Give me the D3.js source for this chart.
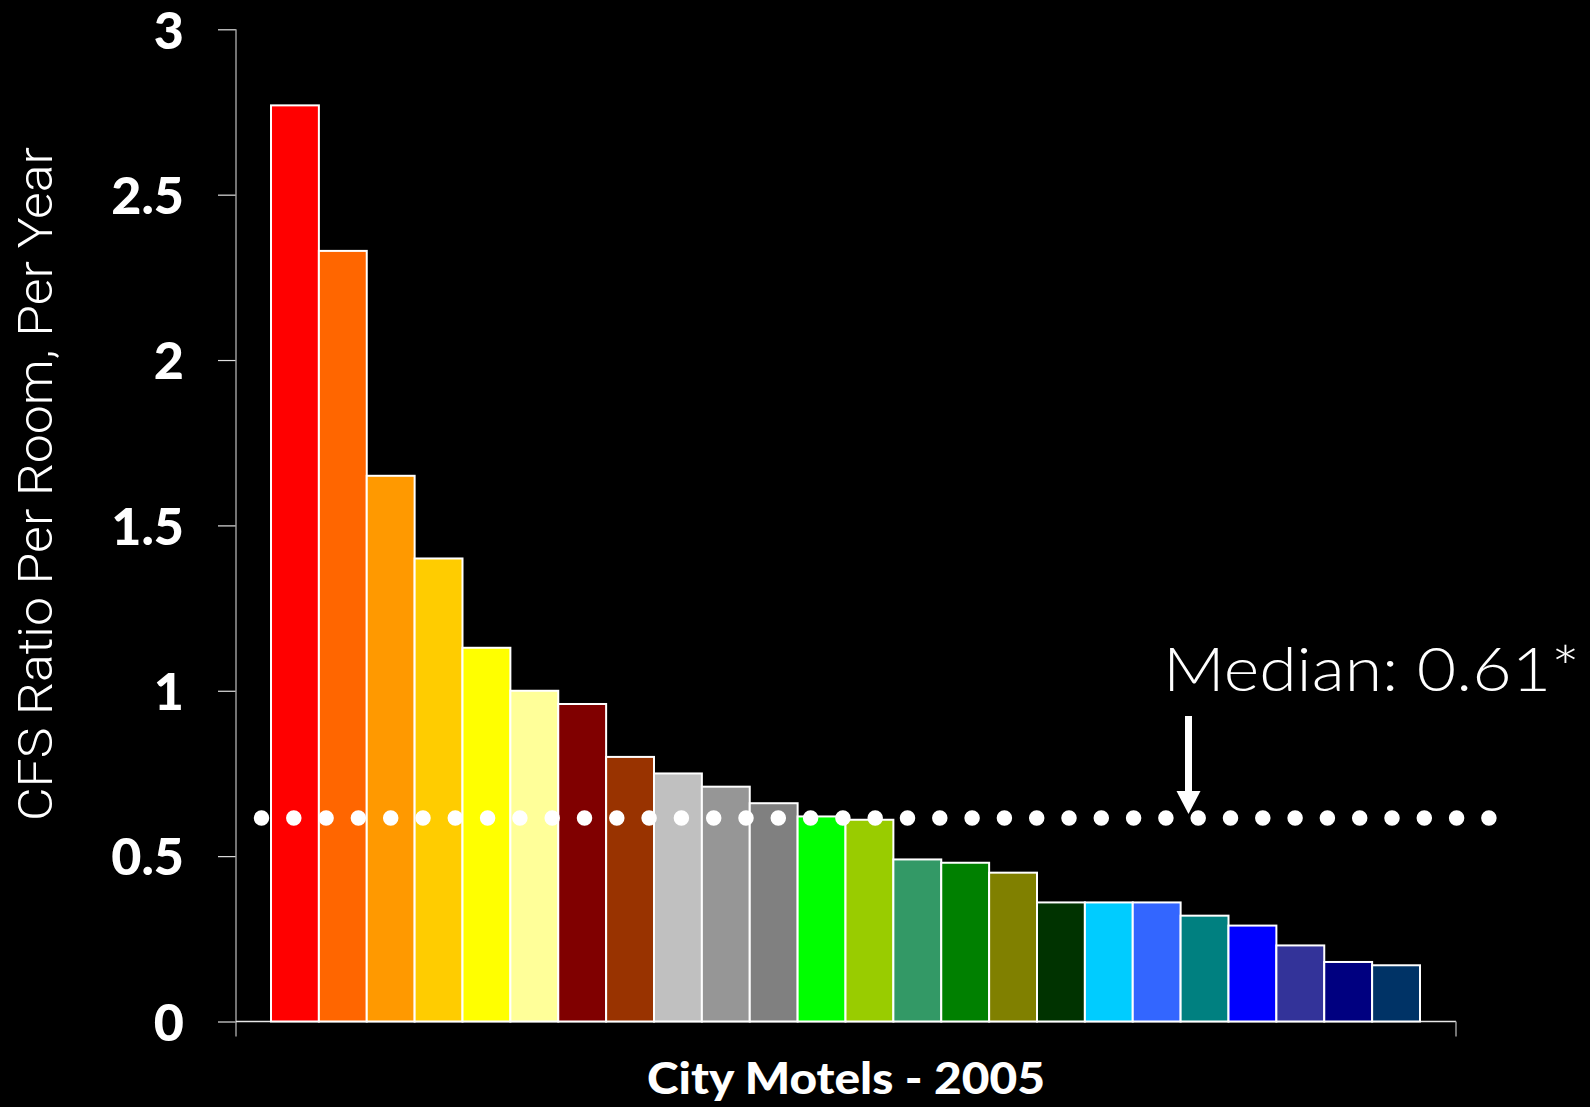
<!DOCTYPE html>
<html>
<head>
<meta charset="utf-8">
<script src="https://cdn.jsdelivr.net/npm/d3@7"></script>
<style>
  html, body { margin: 0; padding: 0; background: #000; }
  svg { display: block; }
</style>
</head>
<body>
<svg id="chart" width="1590" height="1107"></svg>
<script>
// ---- data ----
const motels = d3.range(1, 25).map(i => "Motel " + i);
const cfsRatio = [2.77, 2.33, 1.65, 1.40, 1.13, 1.00, 0.96, 0.80, 0.75, 0.71, 0.66, 0.62,
                  0.61, 0.49, 0.48, 0.45, 0.36, 0.36, 0.36, 0.32, 0.29, 0.23, 0.18, 0.17];
const barColors = ["#FF0000", "#FF6600", "#FF9900", "#FFCC00", "#FFFF00", "#FFFF99",
                   "#800000", "#993300", "#C0C0C0", "#969696", "#808080", "#00FF00",
                   "#99CC00", "#339966", "#008000", "#808000", "#003300", "#00CCFF",
                   "#3366FF", "#008080", "#0000FF", "#333399", "#000080", "#003366"];
const yTicks = [0, 0.5, 1, 1.5, 2, 2.5, 3];
const medianLabel = "Median: 0.61*";
const yTitle = "CFS Ratio Per Room, Per Year";
const xTitle = "City Motels - 2005";

// ---- layout ----
const svg = d3.select("#chart");
const axisX = 236, axisRight = 1456, y0 = 1021.5, yTop = 29.3;
const x = d3.scaleBand().domain(motels).range([271, 1420]).padding(0);
const y = d3.scaleLinear().domain([0, 3]).range([y0, yTop]);

svg.append("rect").attr("width", 1590).attr("height", 1107).attr("fill", "#000");

// y axis
const yAxis = d3.axisLeft(y).tickValues(yTicks).tickSize(18).tickPadding(34)
  .tickFormat(d => d3.format("")(d));
const gy = svg.append("g").attr("transform", `translate(${axisX},0)`).call(yAxis);
gy.select(".domain").remove();
gy.selectAll(".tick line").attr("stroke", "#e0e0e0").attr("stroke-width", 1.2);
gy.selectAll(".tick text")
  .attr("fill", "#fff")
  .style("font-family", "Lato, 'Open Sans', sans-serif")
  .style("font-weight", "900")
  .style("font-size", "52px")
  .attr("dy", "0.36em");
svg.append("line").attr("x1", axisX).attr("x2", axisX)
  .attr("y1", yTop).attr("y2", y0 + 15)
  .attr("stroke", "#9a9a9a").attr("stroke-width", 1.5);

// x axis frame
svg.append("line").attr("x1", axisX).attr("x2", axisRight)
  .attr("y1", y0).attr("y2", y0).attr("stroke", "#e8e8e8").attr("stroke-width", 1.5);
svg.append("line").attr("x1", axisRight).attr("x2", axisRight)
  .attr("y1", y0).attr("y2", y0 + 15).attr("stroke", "#9a9a9a").attr("stroke-width", 1.5);

// bars
svg.append("g").selectAll("rect").data(cfsRatio).join("rect")
  .attr("x", (d, i) => x(motels[i]))
  .attr("y", d => y(d))
  .attr("width", x.bandwidth())
  .attr("height", d => y0 - y(d))
  .attr("fill", (d, i) => barColors[i])
  .attr("stroke", "#fff")
  .attr("stroke-width", 2);

// median dotted line
const med = d3.median(cfsRatio);
svg.append("line")
  .attr("x1", 261.5).attr("x2", 1492)
  .attr("y1", y(med)).attr("y2", y(med))
  .attr("stroke", "#fff").attr("stroke-width", 15.5)
  .attr("stroke-linecap", "round")
  .attr("stroke-dasharray", "0 32.3");

// arrow
const ax = 1188.5;
svg.append("line").attr("x1", ax).attr("x2", ax).attr("y1", 716).attr("y2", 795)
  .attr("stroke", "#fff").attr("stroke-width", 7);
svg.append("path")
  .attr("d", `M${ax - 12},791 L${ax + 12},791 L${ax},814 Z`)
  .attr("fill", "#fff");

// median label
svg.append("text")
  .attr("x", 1163).attr("y", 690.5)
  .attr("fill", "#fff")
  .style("font-family", "Lato, 'Open Sans', sans-serif")
  .style("font-weight", "300")
  .style("font-size", "61px")
  .attr("textLength", 417).attr("lengthAdjust", "spacingAndGlyphs")
  .text(medianLabel);

// y title
svg.append("text")
  .attr("transform", "translate(52,484) rotate(-90)")
  .attr("text-anchor", "middle")
  .attr("fill", "#fff")
  .style("font-family", "Roboto, 'Liberation Sans', sans-serif")
  .style("font-weight", "300")
  .style("font-size", "48px")
  .attr("textLength", 674).attr("lengthAdjust", "spacingAndGlyphs")
  .text(yTitle);

// x title
svg.append("text")
  .attr("x", 846).attr("y", 1094)
  .attr("text-anchor", "middle")
  .attr("fill", "#fff")
  .style("font-family", "Lato, 'Open Sans', sans-serif")
  .style("font-weight", "900")
  .style("font-size", "43px")
  .attr("textLength", 398).attr("lengthAdjust", "spacingAndGlyphs")
  .text(xTitle);
</script>
</body>
</html>
